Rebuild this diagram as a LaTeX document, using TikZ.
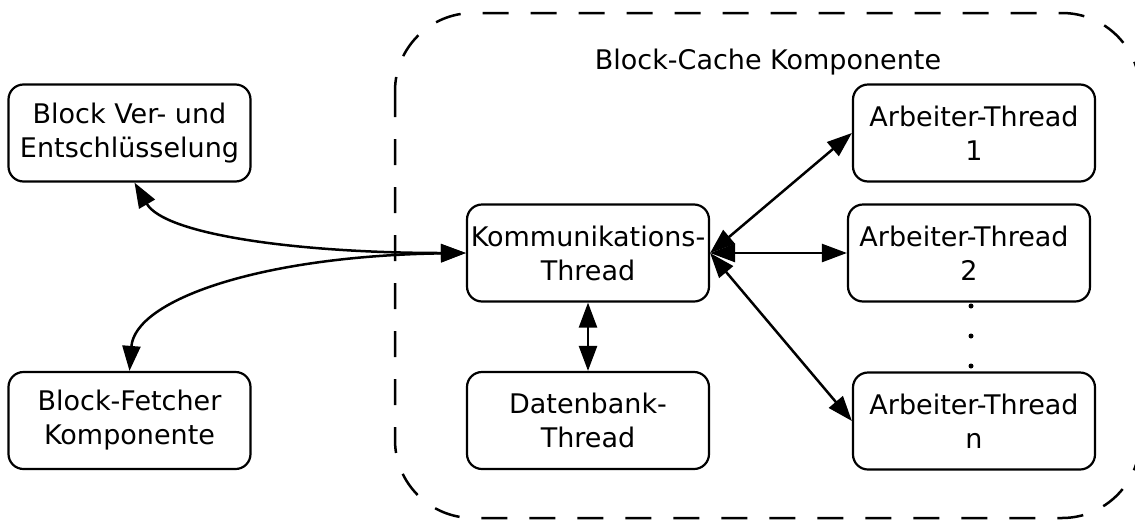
\documentclass[tikz,border=0pt]{standalone}
\usepackage{fontspec}
\setmainfont{DejaVu Sans}
\usetikzlibrary{arrows.meta}
\begin{document}
\begin{tikzpicture}[x=1pt,y=-1pt,
  box/.style={draw, line width=2.2pt, rounded corners=15pt,
    minimum width=242pt, minimum height=97pt, inner sep=0pt,
    align=center, font=\fontsize{27}{34}\selectfont},
  link/.style={line width=2.5pt,
    {Triangle[length=25pt,width=18pt]}-{Triangle[length=25pt,width=18pt]}},
  frame/.style={line width=2.5pt, dash pattern=on 26pt off 22pt, rounded corners=78pt},
  caption/.style={font=\fontsize{27}{34}\selectfont, inner sep=0pt},
  dotmark/.style={circle, fill, inner sep=0pt, minimum size=5pt}]
\useasboundingbox (0,0) rectangle (1135,520);

% dashed frame of the cache component
\draw[frame] (395,13) rectangle (1140,518);
\node[caption] (title) at (768,62) {Block-Cache Komponente};

% components
\node[box] (bv)  at (129.5,133)   {Block Ver- und\\Entschlüsselung};
\node[box] (bf)  at (129.5,420.5) {Block-Fetcher\\Komponente};
\node[box] (kom) at (588,253)     {Kommunikations-\\Thread};
\node[box] (dat) at (588,420.5)   {Datenbank-\\Thread};
\node[box] (a1)  at (974,133)     {Arbeiter-Thread\\1};
\node[box] (a2)  at (969,253)     {Arbeiter-Thread\hspace*{10pt}\\2};
\node[box] (an)  at (974,421)     {Arbeiter-Thread\\n};

% ellipsis between worker threads
\node[dotmark] (d1) at (971,306) {};
\node[dotmark] (d2) at (971,336) {};
\node[dotmark] (d3) at (971,366) {};

% connections
\draw[link] ([xshift=5pt]bv.south) .. controls (165,235) and (300,253) .. (kom.west);
\draw[link] (bf.north) .. controls (135,300) and (260,256) .. (kom.west);
\draw[link] (kom.east) -- (a1.west);
\draw[link] (kom.east) -- (a2.west);
\draw[link] (kom.east) -- (an.west);
\draw[link] (kom.south) -- (dat.north);
\end{tikzpicture}
\end{document}
